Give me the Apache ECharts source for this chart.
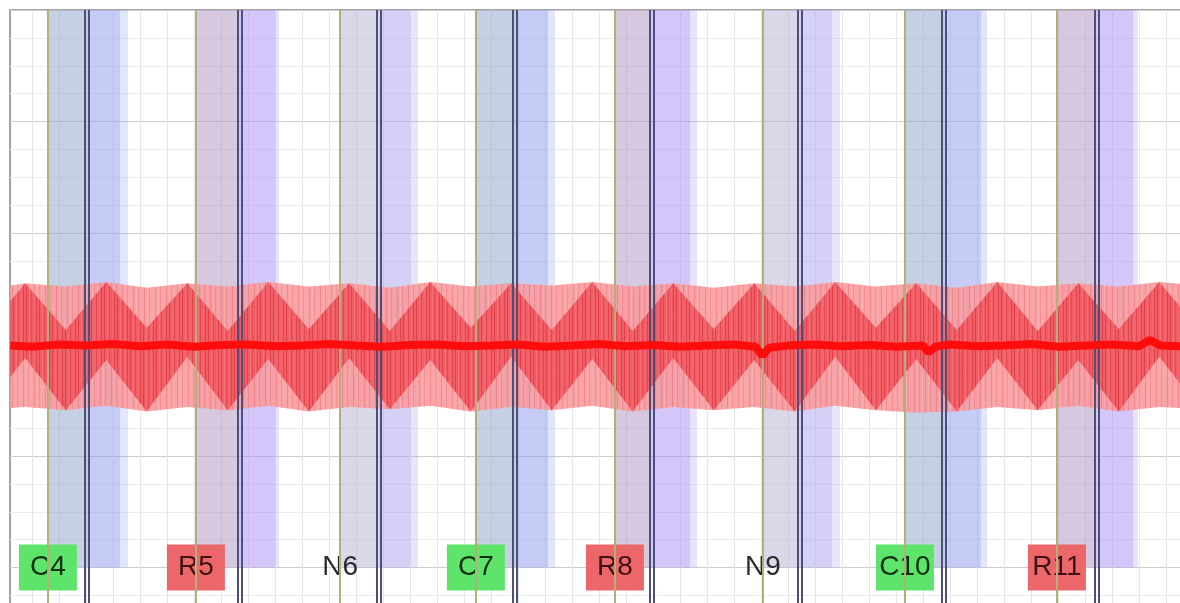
<!DOCTYPE html>
<html><head><meta charset="utf-8">
<script src="https://cdn.jsdelivr.net/npm/echarts@6/dist/echarts.min.js"></script>
<style>html,body{margin:0;padding:0;background:#fff}#chart{width:1180px;height:603px}</style>
</head><body><div id="chart"></div>
<script>
// ---- Event blocks (x in grid cells) ----
const blockNames = ['C4','R5','N6','C7','R8','N9','C10','R11'];
const blockStart = [0.59, 6.07, 11.41, 16.44, 21.59, 27.07, 32.33, 37.96];
const blockMid   = [2.04, 7.70, 12.85, 17.89, 22.96, 28.44, 33.78, 39.44];
const blockEnd   = [3.26, 9.00, 14.00, 19.11, 24.37, 29.63, 35.15, 40.78];
const blockFade  = [3.56, 9.15, 14.30, 19.37, 24.63, 29.93, 35.37, 40.96];

// ---- Waveform envelope & moire boundaries ----
const zigX = [-0.8, -0.25, 1.25, 2.75, 4.25, 5.75, 7.25, 8.75, 10.25, 11.75, 13.25, 14.75, 16.25, 17.75, 19.25, 20.75, 22.25, 23.75, 25.25, 26.75, 28.25, 29.75, 31.25, 32.75, 34.25, 35.75, 37.25, 38.75, 40.25, 41.75, 43.25];
const upperEnv = [0.53, 0.55, 0.52, 0.56, 0.51, 0.55, 0.52, 0.56, 0.52, 0.55, 0.51, 0.56, 0.52, 0.55, 0.53, 0.56, 0.52, 0.55, 0.51, 0.55, 0.52, 0.56, 0.52, 0.55, 0.51, 0.56, 0.52, 0.55, 0.52, 0.56, 0.53];
const lowerEnv = [-0.57, -0.56, -0.59, -0.55, -0.60, -0.56, -0.59, -0.55, -0.60, -0.56, -0.58, -0.55, -0.60, -0.56, -0.59, -0.55, -0.60, -0.56, -0.59, -0.56, -0.60, -0.55, -0.59, -0.61, -0.60, -0.56, -0.59, -0.55, -0.60, -0.56, -0.58];
const upperZig = [0.39, 0.55, 0.13, 0.56, 0.15, 0.55, 0.12, 0.56, 0.14, 0.55, 0.12, 0.56, 0.15, 0.55, 0.13, 0.56, 0.12, 0.55, 0.14, 0.55, 0.12, 0.56, 0.15, 0.55, 0.13, 0.56, 0.12, 0.55, 0.14, 0.56, 0.13];
const lowerZig = [-0.29, -0.12, -0.59, -0.14, -0.60, -0.11, -0.59, -0.13, -0.60, -0.12, -0.58, -0.14, -0.60, -0.11, -0.59, -0.13, -0.60, -0.12, -0.59, -0.14, -0.60, -0.11, -0.59, -0.13, -0.60, -0.12, -0.59, -0.14, -0.60, -0.11, -0.58];

// ---- Mean trace ----
const midX = [-0.8, 0, 1, 2, 3, 4, 5, 6, 7, 8, 9, 10, 11, 12, 13, 14, 15, 16, 17, 18, 19, 20, 21, 22, 23, 24, 25, 26, 26.8, 27.05, 27.3, 28, 29, 30, 31, 32, 33, 33.2, 33.45, 34, 35, 36, 37, 38, 39, 40, 41, 41.4, 41.8, 42.5, 43.2];
const midY = [-0.01, -0.02, 0.0, -0.01, 0.005, -0.015, 0.0, -0.02, -0.005, 0.0, -0.015, -0.01, 0.005, -0.01, -0.02, -0.005, 0.0, -0.015, -0.01, 0.0, -0.02, -0.01, 0.005, -0.015, -0.005, -0.02, -0.01, 0.0, -0.02, -0.1, -0.03, -0.01, 0.0, -0.015, -0.005, -0.02, -0.01, -0.07, -0.02, 0.0, -0.015, -0.01, 0.005, -0.02, -0.01, 0.0, -0.015, 0.04, -0.01, -0.015, -0.01];

const bandColors = {
  C: ['rgba(150,170,206,0.55)', 'rgba(141,153,237,0.5)', 'rgba(158,172,238,0.3)'],
  R: ['rgba(180,155,195,0.55)', 'rgba(169,141,241,0.5)', 'rgba(178,158,238,0.3)'],
  N: ['rgba(181,177,209,0.5)',  'rgba(169,161,237,0.5)', 'rgba(175,170,238,0.3)']
};
const boxColors = { C: '#5fe46b', R: '#ec676a', N: 'transparent' };
const textColors = { C: '#0f2e12', R: '#3e1214', N: '#2a2a2a' };

function makePattern(w, base, stripes) {
  const c = document.createElement('canvas');
  c.width = w; c.height = 4;
  const g = c.getContext('2d');
  g.fillStyle = base; g.fillRect(0, 0, w, 4);
  stripes.forEach(s => { g.fillStyle = s[1]; g.fillRect(s[0], 0, 1, 4); });
  return { image: c, repeat: 'repeat' };
}
const lightFill = makePattern(11, 'rgba(248,152,156,0.88)', [[1,'rgba(238,108,116,0.5)'],[4,'rgba(252,180,182,0.6)'],[6,'rgba(240,120,126,0.45)'],[9,'rgba(250,172,174,0.5)']]);
const darkFill = makePattern(13, 'rgba(240,88,95,0.9)', [[0,'rgba(220,45,58,0.6)'],[3,'rgba(248,130,134,0.55)'],[5,'rgba(226,55,66,0.55)'],[8,'rgba(246,118,124,0.5)'],[10,'rgba(218,42,54,0.55)']]);

const areaData = [];
const lineData = [];
const labelData = [];
blockNames.forEach((n, i) => {
  const t = n[0];
  const col = bandColors[t];
  areaData.push([{ xAxis: blockStart[i], yAxis: -2, itemStyle: { color: col[0] } }, { xAxis: blockMid[i], yAxis: 3 }]);
  areaData.push([{ xAxis: blockMid[i], yAxis: -2, itemStyle: { color: col[1] } }, { xAxis: blockEnd[i], yAxis: 3 }]);
  areaData.push([{ xAxis: blockEnd[i], yAxis: -2, itemStyle: { color: col[2] } }, { xAxis: blockFade[i], yAxis: 3 }]);
  lineData.push({ xAxis: blockStart[i], lineStyle: { color: '#b4ae78', width: 2, type: 'solid' } });
  lineData.push({ xAxis: blockMid[i] - 0.08, lineStyle: { color: '#4c5079', width: 2, type: 'solid' } });
  lineData.push({ xAxis: blockMid[i] + 0.08, lineStyle: { color: '#4c5079', width: 2, type: 'solid' } });
  labelData.push({ value: [blockStart[i], -2], name: n,
    label: { backgroundColor: boxColors[t], color: textColors[t] } });
});

const chart = echarts.init(document.getElementById('chart'));
chart.setOption({
  animation: false,
  grid: [
    { left: 10, top: 10, width: 1183, height: 669, outerBoundsMode: 'none', containLabel: false, show: true, borderColor: '#a3a3a3', borderWidth: 2, backgroundColor: 'transparent' },
    { left: 32, top: 10, width: 1161, height: 669, outerBoundsMode: 'none', containLabel: false }
  ],
  xAxis: [
    { gridIndex: 0, type: 'value', min: -0.8148, max: 43, axisLine: { show: false }, axisTick: { show: false }, axisLabel: { show: false }, splitLine: { show: false } },
    { gridIndex: 1, type: 'value', min: 0, max: 43, interval: 1, axisLine: { show: false }, axisTick: { show: false }, axisLabel: { show: false },
      splitLine: { show: true, lineStyle: { color: '#e6e6e6', width: 1 } } }
  ],
  yAxis: [
    { gridIndex: 0, type: 'value', min: -3, max: 3, interval: 1, axisLine: { show: false }, axisTick: { show: false }, axisLabel: { show: false },
      splitLine: { show: true, lineStyle: { color: '#cdcdcd', width: 1 } },
      minorTick: { show: false, splitNumber: 4 },
      minorSplitLine: { show: true, lineStyle: { color: '#ececec', width: 1 } } },
    { gridIndex: 1, type: 'value', min: 0, max: 1, show: false, splitLine: { show: false } }
  ],
  series: [
    { type: 'line', xAxisIndex: 0, yAxisIndex: 0, data: [], z: 1, silent: true,
      markArea: { silent: true, data: areaData } },
    { type: 'scatter', xAxisIndex: 0, yAxisIndex: 0, z: 2, silent: true, symbol: 'rect', symbolSize: 1,
      itemStyle: { color: 'transparent', opacity: 1 }, data: labelData,
      label: { show: true, position: 'inside', formatter: p => p.name, fontFamily: 'Liberation Sans, Arial, sans-serif',
        fontSize: 28, width: 58, height: 30, lineHeight: 30, padding: [9, 0, 7, 0], align: 'center', verticalAlign: 'middle' } },
    { type: 'line', xAxisIndex: 0, yAxisIndex: 0, data: [], z: 3, silent: true,
      markLine: { silent: true, symbol: 'none', label: { show: false }, data: lineData } },
    { type: 'custom', xAxisIndex: 0, yAxisIndex: 0, z: 4, silent: true, clip: true, data: [[0, 0]],
      renderItem: (params, api) => {
        const env = [], dark = [];
        for (let i = 0; i < zigX.length; i++) env.push(api.coord([zigX[i], upperEnv[i]]));
        for (let i = zigX.length - 1; i >= 0; i--) env.push(api.coord([zigX[i], lowerEnv[i]]));
        for (let i = 0; i < zigX.length; i++) dark.push(api.coord([zigX[i], upperZig[i]]));
        for (let i = zigX.length - 1; i >= 0; i--) dark.push(api.coord([zigX[i], lowerZig[i]]));
        return { type: 'group', children: [
          { type: 'polygon', shape: { points: env }, style: { fill: lightFill } },
          { type: 'polygon', shape: { points: dark }, style: { fill: darkFill } }
        ] };
      } },
    { type: 'line', xAxisIndex: 0, yAxisIndex: 0, z: 5, silent: true, showSymbol: false, symbol: 'none',
      data: midX.map((x, i) => [x, midY[i]]),
      lineStyle: { color: '#ff0d0d', width: 8 } }
  ]
});
</script>
</body></html>
